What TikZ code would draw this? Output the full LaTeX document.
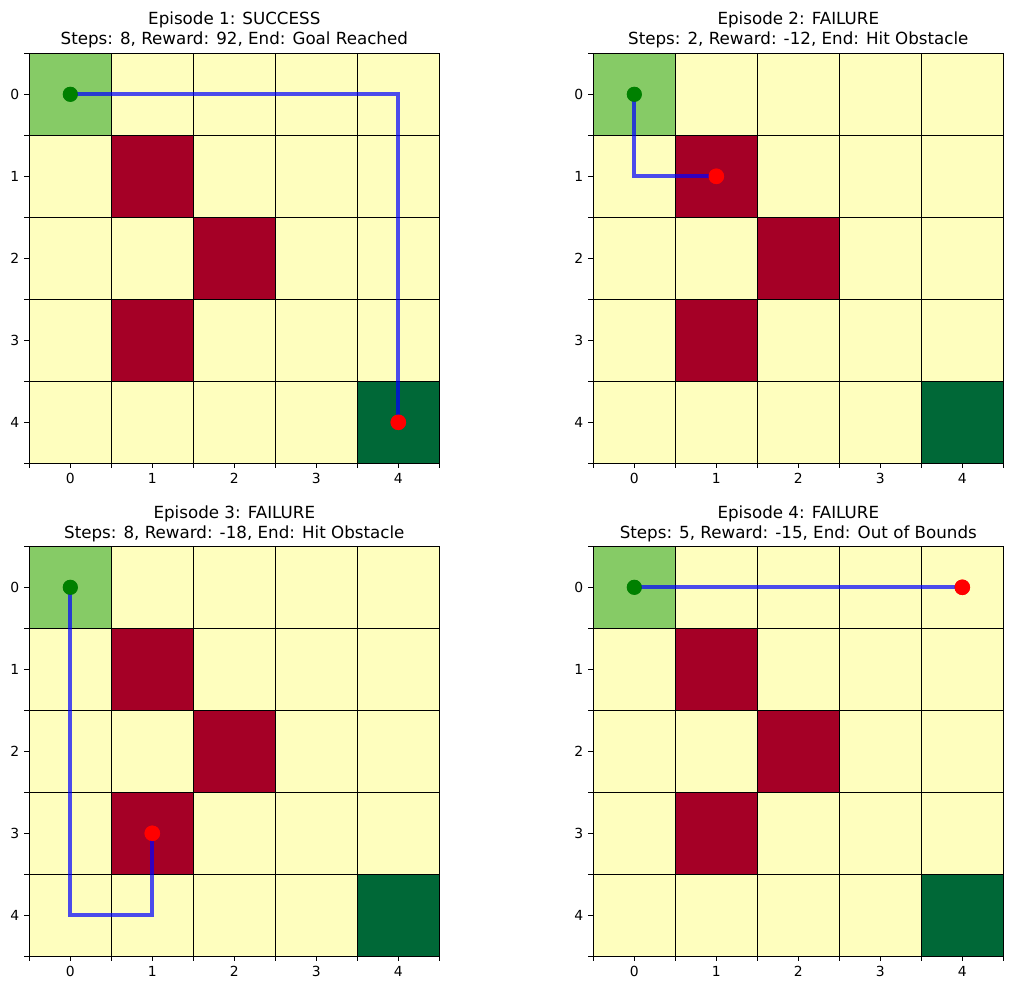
\documentclass[tikz,border=0pt]{standalone}
\usepackage{fontspec}
\setmainfont{DejaVu Sans}
\definecolor{emptyc}{HTML}{FEFEBE}
\definecolor{startc}{HTML}{86CB66}
\definecolor{obst}{HTML}{A50026}
\definecolor{goalc}{HTML}{006837}
\definecolor{startdotc}{HTML}{008000}
\tikzset{
  gridline/.style={draw=black, line width=1.5pt},
  tickline/.style={draw=black, line width=1.3pt},
  ticklabel/.style={font=\fontsize{13.9}{16}\selectfont, inner sep=0pt, text=black},
  titletext/.style={font=\fontsize{16.7}{20}\selectfont, inner sep=0pt, text=black},
  traj/.style={draw=blue, draw opacity=0.7, line width=4.2pt, line join=miter},
  startdot/.style={circle, fill=startdotc, draw=none, inner sep=0pt, minimum size=15pt},
  enddot/.style={circle, fill=red, draw=none, inner sep=0pt, minimum size=15.5pt},
}
\newcommand\gridpanel[7]{%
\begin{scope}[shift={(#2pt,-#3pt)}, x=82pt, y=-82pt]
  \fill[emptyc] (0,0) rectangle (5,5);
  \fill[startc] (0,0) rectangle (1,1);
  \foreach \c/\r in {1/1,2/2,1/3} \fill[obst] (\c,\r) rectangle ++(1,1);
  \fill[goalc] (4,4) rectangle (5,5);
  \foreach \i in {0,...,5} {
    \draw[gridline] (\i,0) -- (\i,5);
    \draw[gridline] (0,\i) -- (5,\i);
    \draw[tickline] (0,\i) -- ++(-4.9pt,0);
    \draw[tickline] (\i,5) -- ++(0,-4.9pt);
  }
  \foreach \i in {0,...,4} {
    \draw[tickline] (0,\i+.5) -- ++(-4.9pt,0);
    \draw[tickline] (\i+.5,5) -- ++(0,-4.9pt);
    \node[ticklabel, anchor=east] (#1y\i) at ([xshift=-9.8pt]0,\i+.5) {\i};
    \node[ticklabel, anchor=north] (#1x\i) at ([yshift=-9.8pt]\i+.5,5) {\i};
  }
  \node[titletext, anchor=base] (#1ta) at ([yshift=28.3pt]2.5,0) {#4};
  \node[titletext, anchor=base] (#1tb) at ([yshift=8.3pt]2.5,0) {#5};
  \node[startdot] (#1s) at (0.5,0.5) {};
  \node[enddot] (#1e) at #7 {};
  \draw[traj] (#1s.center) #6 (#1e.center);
  \node[startdot] at (#1s.center) {};
  \node[enddot] at (#1e.center) {};
\end{scope}}
\begin{document}
\begin{tikzpicture}[x=1pt, y=-1pt]
  \useasboundingbox (0,0) rectangle (1014,990);
  \fill[white] (0,0) rectangle (1014,990);
  \gridpanel{pa}{29.3}{53.3}{Episode 1: SUCCESS}{Steps: 8, Reward: 92, End: Goal Reached}{-- (4.5,0.5) --}{(4.5,4.5)}
  \gridpanel{pb}{593.3}{53.3}{Episode 2: FAILURE}{Steps: 2, Reward: -12, End: Hit Obstacle}{-- (0.5,1.5) --}{(1.5,1.5)}
  \gridpanel{pc}{29.3}{546.3}{Episode 3: FAILURE}{Steps: 8, Reward: -18, End: Hit Obstacle}{-- (0.5,4.5) -- (1.5,4.5) --}{(1.5,3.5)}
  \gridpanel{pd}{593.3}{546.3}{Episode 4: FAILURE}{Steps: 5, Reward: -15, End: Out of Bounds}{--}{(4.5,0.5)}
\end{tikzpicture}
\end{document}
